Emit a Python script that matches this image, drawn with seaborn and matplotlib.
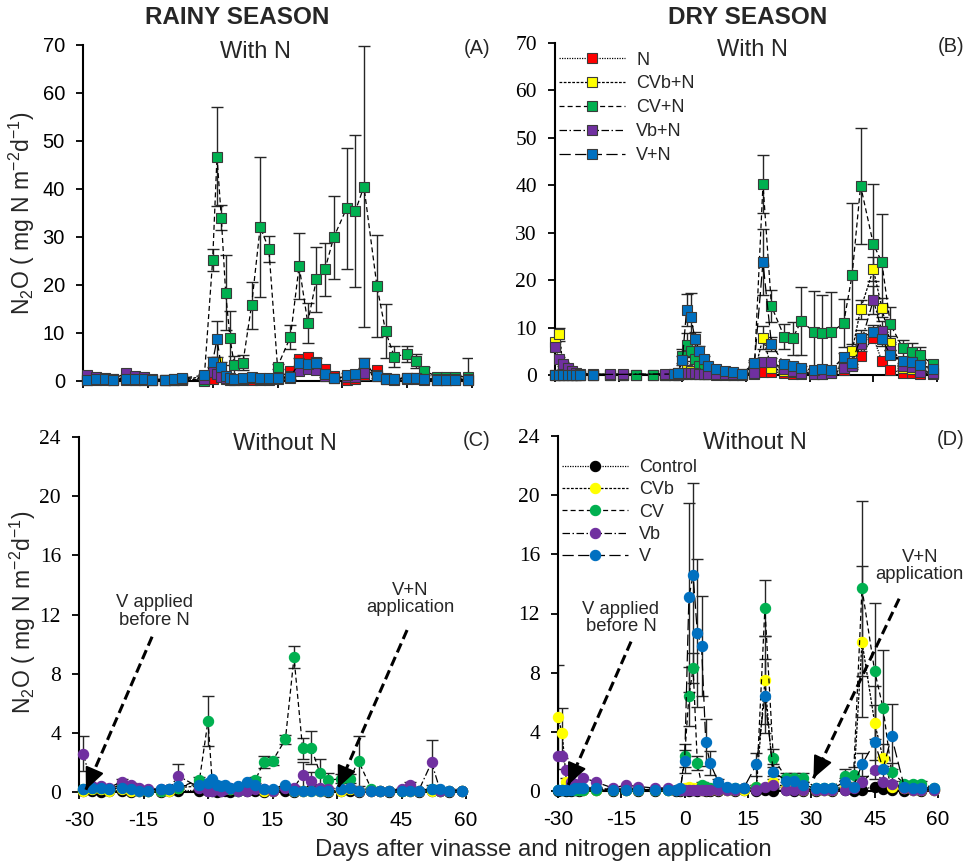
import numpy as np
import matplotlib
matplotlib.use("Agg")
import matplotlib.pyplot as plt
import seaborn as sns
from matplotlib.lines import Line2D

nan = np.nan

# ---------------- sampling days ----------------
R_DAYS = [-29, -27, -25, -23,
          -20, -18, -16, -14,
          -11, -9, -7, -2,
          0, 1, 2, 3, 4, 5,
          7, 9, 11, 13, 15,
          18, 20, 22, 24, 26, 28,
          31, 33, 35, 38, 40, 42,
          45, 47, 49, 52, 54, 56, 59]

D_DAYS = [-30, -29, -28, -27, -26, -25, -24,
          -21, -17, -14, -11, -7, -4, -2, -1,
          0, 1, 2, 3, 4, 5, 6,
          8, 10, 12, 14,
          17, 19, 21, 24, 26, 28,
          31, 33, 35, 38, 40, 42,
          45, 47, 49, 52, 54, 56, 59]

# ---------------- (A) rainy season, with N ----------------
A_N = [0.2, 0.2, 0.2, 0.2,
       0.3, 0.2, 0.2, 0.2,
       0.2, 0.2, 0.2, 0.3,
       0.5, 2.0, 0.8, 0.4, 0.3, 0.3,
       0.2, 0.3, 0.3, 0.3, 0.6,
       2.1, 4.5, 5.1, 3.9, 2.6, 1.0,
       0.3, 0.5, 1.3, 2.3, 0.6, 0.3,
       0.4, 0.4, 0.3, 0.3, 0.3, 0.4, 0.3]
A_CVbN = [0.3, 0.4, 0.4, 0.3,
          0.4, 0.3, 0.3, 0.3,
          0.3, 0.3, 0.5, 0.8,
          2.5, 4.0, 1.8, 0.8, 0.5, 0.4,
          0.5, 0.6, 0.5, 0.5, 0.5,
          0.7, 2.5, 2.8, 2.6, 1.0, 0.6,
          0.9, 1.0, 2.5, 1.0, 0.4, 0.4,
          0.6, 0.6, 0.4, 0.3, 0.3, 0.3, 0.3]
A_CVN = [0.9, 0.5, 0.5, 0.4,
         0.6, 0.5, 0.4, 0.3,
         0.3, 0.4, 0.5, 0.1,
         25.2, 46.7, 34.0, 18.4, 9.0, 3.3,
         3.8, 15.8, 32.1, 27.5, 3.0,
         9.2, 24.0, 12.1, 21.2, 23.3, 29.9,
         36.0, 35.4, 40.5, 19.8, 10.4, 5.1,
         5.6, 4.2, 2.1, 0.9, 0.8, 0.9, 0.9]
A_CVN_SD = [0.2, 0.2, 0.2, 0.2,
            0.2, 0.2, 0.2, 0.2,
            0.2, 0.2, 0.2, 0.2,
            2.2, 10.3, 2.6, 7.8, 5.6, 2.0,
            1.6, 4.9, 14.6, 2.7, 0.5,
            2.5, 6.9, 4.2, 6.8, 5.5, 8.6,
            12.6, 15.9, 29.3, 10.7, 5.6, 2.1,
            1.7, 1.4, 0.8, 0.3, 0.3, 0.3, 3.8]
A_VbN = [1.3, 0.8, 0.7, 0.5,
         1.6, 1.0, 0.8, 0.4,
         0.3, 0.3, 0.4, 0.5,
         1.8, 1.5, 0.9, 0.6, 0.4, 0.3,
         0.5, 0.6, 0.5, 0.4, 0.6,
         1.0, 2.0, 2.5, 2.2, 1.0, 0.6,
         0.8, 0.9, 1.6, 1.2, 0.5, 0.4,
         0.6, 0.6, 0.4, 0.5, 0.4, 0.4, 0.5]
A_VN = [0.3, 0.4, 0.4, 0.3,
        0.5, 0.4, 0.4, 0.3,
        0.3, 0.4, 0.6, 1.2,
        4.0, 8.7, 3.0, 1.0, 0.6, 0.5,
        0.6, 0.9, 0.7, 0.7, 0.6,
        0.8, 3.8, 3.6, 3.7, 1.4, 0.7,
        1.2, 1.4, 3.8, 1.0, 0.4, 0.4,
        0.7, 0.7, 0.4, 0.3, 0.3, 0.3, 0.3]
A_VN_SD = [0.1, 0.1, 0.1, 0.1,
           0.1, 0.1, 0.1, 0.1,
           0.1, 0.1, 0.1, 0.3,
           1.0, 3.7, 1.0, 0.3, 0.2, 0.2,
           0.2, 0.3, 0.2, 0.2, 0.2,
           0.3, 1.0, 1.0, 1.0, 0.5, 0.2,
           0.4, 0.5, 1.0, 0.3, 0.1, 0.1,
           0.2, 0.2, 0.1, 0.1, 0.1, 0.1, 0.1]

# ---------------- (B) dry season, with N ----------------
B_N = [0.1, 0.1, 0.1, 0.1, 0.1, 0.1, 0.1,
       0.1, 0.1, 0.1, 0.1, 0.1, 0.1, 0.1, 0.1,
       0.2, 0.3, 0.3, 0.2, 0.2, 0.2, 0.2,
       0.1, 0.1, 0.1, 0.1,
       0.3, 0.6, 0.7, 0.4, 0.3, 0.3,
       0.3, 0.3, 0.4, 1.0, 2.0, 4.0,
       7.9, 3.0, 1.05, 0.5, 0.4, 0.3, 0.2]
B_CVbN = [7.0, 8.6, 1.0, 0.5, 0.3, 0.2, 0.1,
          0.1, 0.1, 0.1, 0.1, 0.1, 0.1, 0.1, 0.1,
          0.5, 1.0, 0.8, 0.5, 0.4, 0.3, 0.3,
          0.2, 0.2, 0.1, 0.1,
          0.5, 7.9, 1.5, 0.8, 0.6, 0.5,
          0.5, 0.5, 0.6, 2.0, 5.0, 13.9,
          22.3, 14.2, 6.7, 1.5, 1.2, 0.8, 0.5]
B_CVbN_SD = [1.0, 1.4, 0.3, 0.1, 0.1, 0.1, 0.1,
             0.1, 0.1, 0.1, 0.1, 0.1, 0.1, 0.1, 0.1,
             0.2, 0.3, 0.3, 0.2, 0.1, 0.1, 0.1,
             0.1, 0.1, 0.1, 0.1,
             0.2, 2.5, 0.5, 0.3, 0.2, 0.2,
             0.2, 0.2, 0.2, 0.6, 1.5, 2.0,
             2.5, 2.0, 1.5, 0.5, 0.4, 0.3, 0.2]
B_CVN = [0.1, 0.1, 0.1, 0.1, 0.1, 0.1, 0.1,
         0.1, 0.1, 0.1, 0.1, 0.1, 0.1, 0.2, 0.3,
         4.0, 6.3, 5.0, 3.3, 1.8, 1.2, 0.9,
         0.8, 0.6, 0.5, 0.3,
         2.0, 40.2, 14.5, 8.1, 7.7, 11.4,
         9.1, 8.8, 9.0, 10.9, 21.1, 39.9,
         27.6, 23.8, 10.7, 5.6, 4.9, 4.2, 2.3]
B_CVN_SD = [0.1, 0.1, 0.1, 0.1, 0.1, 0.1, 0.1,
            0.1, 0.1, 0.1, 0.1, 0.1, 0.1, 0.1, 0.1,
            1.5, 2.5, 2.0, 1.0, 0.6, 0.4, 0.3,
            0.3, 0.2, 0.2, 0.1,
            0.8, 6.1, 3.4, 2.7, 3.5, 7.2,
            8.6, 8.1, 8.4, 5.1, 15.2, 12.2,
            12.7, 10.1, 3.7, 1.8, 1.8, 1.6, 0.8]
B_VbN = [6.0, 3.3, 2.4, 1.5, 0.9, 0.5, 0.3,
         0.2, 0.2, 0.2, nan, nan, 0.2, 0.3, 0.4,
         0.5, 0.5, 0.4, 0.4, 0.3, 0.3, 0.3,
         0.2, 0.2, 0.2, 0.2,
         0.4, 2.8, 2.8, 1.2, 0.8, 0.5,
         0.3, 0.3, 0.4, 1.5, 1.8, 6.5,
         15.8, 9.3, 5.0, 2.0, 1.7, 0.6, 0.4]
B_VbN_SD = [1.0, 0.6, 0.4, 0.3, 0.2, 0.1, 0.1,
            0.1, 0.1, 0.1, nan, nan, 0.1, 0.1, 0.1,
            0.1, 0.1, 0.1, 0.1, 0.1, 0.1, 0.1,
            0.1, 0.1, 0.1, 0.1,
            0.1, 0.8, 0.8, 0.4, 0.3, 0.2,
            0.1, 0.1, 0.1, 0.5, 0.6, 1.5,
            3.0, 2.0, 1.5, 0.6, 0.5, 0.2, 0.1]
B_VN = [0.1, 0.1, 0.1, 0.1, 0.1, 0.1, 0.1,
        0.1, nan, nan, nan, nan, nan, 0.2, 0.5,
        3.1, 13.7, 12.2, 7.6, 5.1, 3.4, 1.8,
        1.2, 0.9, 0.7, 0.2,
        2.6, 23.8, 6.5, 2.3, 2.0, 1.5,
        1.0, 1.3, 1.1, 3.7, 2.5, 7.9,
        9.0, 7.6, 4.3, 3.0, 2.8, 2.2, 1.3]
B_VN_SD = [0.1, 0.1, 0.1, 0.1, 0.1, 0.1, 0.1,
           0.1, nan, nan, nan, nan, nan, 0.1, 0.1,
           1.0, 3.4, 5.0, 1.5, 1.0, 0.6, 0.4,
           0.3, 0.2, 0.2, 0.1,
           0.6, 6.9, 1.5, 0.6, 0.5, 0.4,
           0.3, 0.4, 0.3, 1.0, 0.8, 1.5,
           1.5, 1.5, 1.0, 0.8, 0.8, 0.6, 0.5]

# ---------------- (C) rainy season, without N ----------------
C_CTRL = [0.1, 0.1, 0.0, 0.1,
          0.1, 0.0, 0.1, 0.1,
          0.0, 0.1, 0.1, 0.1,
          0.1, 0.1, 0.0, 0.1, 0.1, 0.0,
          0.1, 0.1, 0.1, 0.0, 0.1,
          0.1, 0.0, 0.1, 0.2, 0.1, 0.0,
          0.1, 0.1, 0.0, 0.1, 0.1, 0.0,
          0.1, 0.1, 0.0, 0.1, 0.1, 0.0, 0.1]
C_CVb = [0.1, 0.2, 0.2, 0.1,
         0.2, 0.1, 0.1, 0.1,
         0.1, 0.1, 0.3, 0.4,
         0.5, 0.7, 0.4, 0.3, 0.4, 0.2,
         0.3, 0.6, 0.4, 0.1, 0.1,
         0.4, 0.1, 0.1, 0.1, 0.1, 0.1,
         0.1, 0.2, 0.1, 0.1, 0.1, 0.1,
         0.1, 0.1, 0.1, 0.1, 0.1, 0.1, 0.1]
C_CV = [0.2, 0.3, 0.3, 0.2,
        0.5, 0.3, 0.2, 0.1,
        0.1, 0.2, 0.3, 0.8,
        4.8, 0.6, 0.3, 0.3, 0.3, 0.2,
        0.1, 0.3, 0.8, 2.05, 2.1,
        3.55, 9.1, 2.95, 3.0, 1.3, 0.8,
        0.9, 0.9, 2.1, 0.2, 0.1, 0.1,
        0.1, 0.2, 0.1, 0.2, 0.1, 0.1, 0.1]
C_CV_SD = [0.1, 0.1, 0.1, 0.1,
           0.1, 0.1, 0.1, 0.1,
           0.1, 0.1, 0.1, 0.2,
           1.7, 0.2, 0.1, 0.1, 0.1, 0.1,
           0.1, 0.1, 0.2, 0.4, 0.3,
           0.3, 0.75, 0.7, 1.1, 0.9, 0.5,
           0.3, 0.3, 1.7, 0.1, 0.1, 0.1,
           0.1, 0.1, 0.1, 0.1, 0.1, 0.1, 0.1]
C_Vb = [2.6, 0.4, 0.4, 0.3,
        0.7, 0.5, 0.3, 0.2,
        0.2, 0.2, 1.1, 0.3,
        0.1, 0.1, 0.2, 0.1, 0.2, 0.3,
        0.1, 0.1, 0.2, 0.2, 0.1,
        0.3, 0.3, 1.15, 0.76, 0.3, 0.2,
        0.2, 0.3, 0.1, 0.1, 0.1, 0.1,
        0.2, 0.45, 0.1, 2.0, 0.1, 0.1, 0.1]
C_Vb_SD = [1.2, 0.1, 0.1, 0.1,
           0.2, 0.1, 0.1, 0.1,
           0.1, 0.1, 0.8, 0.1,
           0.1, 0.1, 0.1, 0.1, 0.1, 0.1,
           0.1, 0.1, 0.1, 0.1, 0.1,
           0.1, 0.1, 0.9, 0.6, 0.1, 0.1,
           0.1, 0.1, 0.1, 0.1, 0.1, 0.1,
           0.1, 0.2, 0.1, 1.5, 0.1, 0.1, 0.1]
C_V = [0.2, 0.3, 0.3, 0.2,
       0.3, 0.2, 0.1, 0.1,
       0.2, 0.2, 0.4, 0.5,
       0.6, 0.85, 0.5, 0.4, 0.5, 0.3,
       0.4, 0.7, 0.5, 0.2, 0.2,
       0.5, 0.1, 0.1, 0.1, 0.1, 0.1,
       0.2, 0.3, 0.1, 0.1, 0.1, 0.1,
       0.1, 0.1, 0.1, 0.2, 0.2, 0.1, 0.1]

# ---------------- (D) dry season, without N ----------------
D_CTRL = [0.0, 0.1, 0.0, 0.0, 0.1, 0.0, 0.1,
          0.1, 0.0, 0.1, 0.0, 0.0, 0.1, 0.0, 0.0,
          0.1, 0.0, 0.1, 0.0, 0.1, 0.0, 0.0,
          0.0, 0.1, 0.0, 0.1,
          0.0, 0.1, 0.0, 0.1, 0.0, 0.0,
          0.0, 0.1, 0.0, 0.1, 0.0, 0.1,
          0.3, 0.15, 0.1, 0.0, 0.1, 0.0, 0.1]
D_CVb = [5.0, 3.9, 0.6, 0.3, 0.2, 0.1, 0.1,
         0.1, 0.1, 0.1, 0.1, 0.1, 0.1, 0.1, 0.1,
         0.2, 0.3, 0.2, 0.2, 0.1, 0.1, 0.1,
         0.1, 0.1, 0.1, 0.1,
         0.3, 7.5, 0.6, 0.2, 0.2, 0.1,
         0.1, 0.1, 0.1, 0.2, 0.3, 10.1,
         4.6, 2.2, 0.3, 0.2, 0.1, 0.1, 0.1]
D_CVb_SD = [3.5, 1.7, 0.3, 0.1, 0.1, 0.1, 0.1,
            0.1, 0.1, 0.1, 0.1, 0.1, 0.1, 0.1, 0.1,
            0.1, 0.1, 0.1, 0.1, 0.1, 0.1, 0.1,
            0.1, 0.1, 0.1, 0.1,
            0.1, 3.0, 0.4, 0.1, 0.1, 0.1,
            0.1, 0.1, 0.1, 0.1, 0.1, 5.1,
            2.5, 1.0, 0.2, 0.1, 0.1, 0.1, 0.1]
D_CV = [0.1, 0.1, 0.1, 0.1, 0.1, 0.1, 0.1,
        0.1, 0.1, 0.1, 0.1, 0.1, 0.1, 0.1, 0.1,
        2.4, 6.4, 8.3, 1.9, 0.4, 0.3, 0.2,
        0.3, 0.2, 0.2, 0.2,
        0.3, 12.35, 2.25, 0.9, 0.9, 0.9,
        0.2, 0.2, 0.2, 1.0, 1.1, 13.7,
        8.1, 5.6, 1.3, 0.5, 0.5, 0.5, 0.2]
D_CV_SD = [0.1, 0.1, 0.1, 0.1, 0.1, 0.1, 0.1,
           0.1, 0.1, 0.1, 0.1, 0.1, 0.1, 0.1, 0.1,
           0.8, 2.0, 1.0, 0.5, 0.2, 0.1, 0.1,
           0.1, 0.1, 0.1, 0.1,
           0.1, 1.9, 0.6, 0.3, 0.3, 0.3,
           0.1, 0.1, 0.1, 0.5, 0.5, 5.9,
           4.6, 3.9, 0.6, 0.2, 0.2, 0.2, 0.1]
D_Vb = [2.4, 2.4, 1.4, 0.6, 0.5, 0.4, 0.9,
        0.6, 0.2, 0.4, 0.3, 0.2, 0.2, 0.1, 0.1,
        0.1, 0.1, 0.1, 0.1, 0.1, 0.1, 0.1,
        0.1, 0.1, 0.1, 0.2,
        0.1, 0.3, 0.4, 0.1, 0.1, 0.1,
        0.1, 0.1, 0.1, 0.1, 0.2, 0.6,
        1.4, 0.6, 0.5, 0.2, 0.1, 0.1, 0.1]
D_V = [0.1, 0.1, 0.1, 0.1, 0.2, 0.2, 0.2,
       0.2, 0.1, 0.1, 0.1, 0.1, 0.1, 0.1, 0.2,
       2.0, 13.1, 14.6, 10.7, 9.8, 3.3, 1.9,
       0.6, 0.3, 0.2, 0.2,
       1.8, 6.4, 1.3, 0.7, 0.7, 0.4,
       0.2, 0.2, 0.2, 0.6, 0.3, 1.8,
       3.3, 1.5, 3.7, 0.3, 0.2, 0.2, 0.2]
D_V_SD = [0.1, 0.1, 0.1, 0.1, 0.1, 0.1, 0.1,
          0.1, 0.1, 0.1, 0.1, 0.1, 0.1, 0.1, 0.1,
          0.8, 6.4, 6.2, 5.0, 3.4, 1.6, 0.8,
          0.2, 0.1, 0.1, 0.1,
          0.8, 2.5, 0.5, 0.3, 0.3, 0.2,
          0.1, 0.1, 0.1, 0.3, 0.2, 0.8,
          2.5, 0.8, 2.2, 0.1, 0.1, 0.1, 0.1]

LABELS_N = ["N", "CVb+N", "CV+N", "Vb+N", "V+N"]
LABELS_0 = ["Control", "CVb", "CV", "Vb", "V"]
COLORS_N = ["#FF0000", "#FFFF00", "#00B050", "#7030A0", "#0070C0"]
COLORS_0 = ["#000000", "#FFFF00", "#00B050", "#7030A0", "#0070C0"]
Y_TICKS_N = [0, 10, 20, 30, 40, 50, 60, 70]
Y_TICKS_0 = [0, 4, 8, 12, 16, 20, 24]
X_TICKS = [-30, -15, 0, 15, 30, 45, 60]

# ---------------- style ----------------
sns.set_theme(style="ticks")
plt.rcParams["font.family"] = ["Liberation Sans", "DejaVu Sans"]
plt.rcParams["axes.unicode_minus"] = False
plt.rcParams["mathtext.fontset"] = "custom"
plt.rcParams["mathtext.rm"] = "Liberation Sans"
plt.rcParams["mathtext.it"] = "Liberation Sans:italic"
plt.rcParams["mathtext.bf"] = "Liberation Sans:bold"

LSTYLES = [(0, (1, 1)), (0, (2.2, 1.2)), (0, (4, 2.5)), (0, (6, 2, 1.2, 2)), (0, (9, 3.5))]

W, H = 968, 864
fig = plt.figure(figsize=(W / 100, H / 100), dpi=100)


def add_axes(l, t, r, b):
    return fig.add_axes([l / W, 1 - b / H, (r - l) / W, (b - t) / H])


axA = add_axes(83, 45, 472, 381)
axB = add_axes(555, 43, 937, 375)
axC = add_axes(79, 437, 466, 792)
axD = add_axes(558, 436, 938, 791)


def draw(ax, days, series, sds, colors, marker, ms, mec):
    d = np.array(days, dtype=float)
    for vals, sd in zip(series, sds):
        if sd is None:
            continue
        v = np.array(vals, dtype=float)
        s = np.array(sd, dtype=float)
        m = ~np.isnan(v)
        ax.errorbar(d[m], v[m], yerr=s[m], fmt="none", ecolor="#262626",
                    elinewidth=1.0, capsize=4, capthick=1.0, zorder=2)
    for i, (vals, col) in enumerate(zip(series, colors)):
        v = np.array(vals, dtype=float)
        m = ~np.isnan(v)
        sns.lineplot(x=d[m], y=v[m], ax=ax, estimator=None, sort=False,
                     color="black", linewidth=0.9, linestyle=LSTYLES[i],
                     marker=marker, markersize=ms, markerfacecolor=col,
                     markeredgecolor=(mec if mec else col), markeredgewidth=0.8,
                     clip_on=False, zorder=3 + i)


draw(axA, R_DAYS, [A_N, A_CVbN, A_CVN, A_VbN, A_VN],
     [None, None, A_CVN_SD, None, A_VN_SD], COLORS_N, "s", 7.2, "#3a3a3a")
draw(axB, D_DAYS, [B_N, B_CVbN, B_CVN, B_VbN, B_VN],
     [None, B_CVbN_SD, B_CVN_SD, B_VbN_SD, B_VN_SD], COLORS_N, "s", 7.2, "#3a3a3a")
draw(axC, R_DAYS, [C_CTRL, C_CVb, C_CV, C_Vb, C_V],
     [None, None, C_CV_SD, C_Vb_SD, None], COLORS_0, "o", 7.4, None)
draw(axD, D_DAYS, [D_CTRL, D_CVb, D_CV, D_Vb, D_V],
     [None, D_CVb_SD, D_CV_SD, None, D_V_SD], COLORS_0, "o", 7.4, None)

serif = ["Liberation Serif", "DejaVu Serif"]
for ax, yt, ymax in [(axA, Y_TICKS_N, 70), (axB, Y_TICKS_N, 70),
                     (axC, Y_TICKS_0, 24), (axD, Y_TICKS_0, 24)]:
    ax.set_xlim(-30, 60)
    ax.set_ylim(0, ymax)
    ax.set_xticks(X_TICKS)
    ax.set_yticks(yt)
    ax.set_xlabel("")
    ax.set_ylabel("")
    for side in ["top", "right"]:
        ax.spines[side].set_visible(False)
    for side in ["left", "bottom"]:
        ax.spines[side].set_linewidth(1.5)
        ax.spines[side].set_color("black")
    ax.tick_params(axis="both", direction="out", length=5, width=1.3,
                   colors="black")
    ax.tick_params(axis="y", pad=8, labelsize=14.5)
    ax.tick_params(axis="x", pad=9, labelsize=15)
    ax.set_facecolor("white")

for ax in (axA, axB):
    ax.tick_params(axis="x", labelbottom=False)
for ax in (axB, axC, axD):
    ax.tick_params(axis="y", labelsize=15.5)
    for lab in ax.get_yticklabels():
        lab.set_fontfamily(serif)

# panel texts
for ax, sub, letter, sx, lx in [(axA, "With N", "(A)", 0.442, 1.014),
                                (axB, "With N", "(B)", 0.518, 1.038),
                                (axC, "Without N", "(C)", 0.532, 1.028),
                                (axD, "Without N", "(D)", 0.518, 1.034)]:
    ax.text(sx, 0.98, sub, transform=ax.transAxes, ha="center", va="center",
            fontsize=17)
    ax.text(lx, 0.99, letter, transform=ax.transAxes, ha="center", va="center",
            fontsize=14.5)

fig.text(237 / W, 1 - 18 / H, "RAINY SEASON", ha="center", va="center",
         fontsize=17.5, fontweight="bold")
fig.text(748 / W, 1 - 18 / H, "DRY SEASON", ha="center", va="center",
         fontsize=17.5, fontweight="bold")

ylab = r"N$_2$O ( mg N m$^{-2}$d$^{-1}$)"
fig.text(22 / W, 1 - 213 / H, ylab, rotation=90, ha="center", va="center", fontsize=16.5)
fig.text(23 / W, 1 - 612 / H, ylab, rotation=90, ha="center", va="center", fontsize=16.5)
fig.text(543 / W, 1 - 850 / H, "Days after vinasse and nitrogen application",
         ha="center", va="center", fontsize=17.2)


# legends
def legend(ax, labels, colors, marker, ms, mec, spacing, anchor):
    handles = []
    for i, (lab, col) in enumerate(zip(labels, colors)):
        handles.append(Line2D([0], [0], color="black", linewidth=0.9,
                              linestyle=LSTYLES[i], marker=marker, markersize=ms,
                              markerfacecolor=col,
                              markeredgecolor=(mec if mec else col),
                              markeredgewidth=0.8, label=lab))
    ax.legend(handles=handles, loc="upper left", bbox_to_anchor=anchor,
              frameon=False, fontsize=13, handlelength=3.7, handletextpad=0.6,
              labelspacing=spacing, borderaxespad=0.0, borderpad=0.2)


legend(axB, LABELS_N, COLORS_N, "s", 7.2, "#3a3a3a", 0.38, (0.0, 0.985))
legend(axD, LABELS_0, COLORS_0, "o", 7.4, None, 0.29, (0.0, 0.945))


# annotations (arrows)
def arrow(ax, start, end, text, tpos):
    ax.plot([start[0], end[0]], [start[1], end[1]], color="black", linewidth=2.2,
            linestyle=(0, (3.2, 1.6)), zorder=9, clip_on=False)
    back = (end[0] + 0.08 * (start[0] - end[0]), end[1] + 0.08 * (start[1] - end[1]))
    ax.annotate("", xy=end, xytext=back, zorder=10,
                arrowprops=dict(arrowstyle="-|>,head_length=0.45,head_width=0.2",
                                color="black", lw=1.5, mutation_scale=30,
                                shrinkA=0, shrinkB=0))
    ax.text(tpos[0], tpos[1], text, ha="center", va="center", fontsize=13.3,
            linespacing=1.05, zorder=11)


arrow(axC, (-13.0, 10.5), (-28.4, 0.15), "V applied\nbefore N", (-12.5, 12.2))
arrow(axC, (46.3, 10.95), (30.2, 0.27), "V+N\napplication", (47.0, 13.05))
arrow(axD, (-12.7, 10.1), (-27.6, 0.4), "V applied\nbefore N", (-15.1, 11.7))
arrow(axD, (50.8, 13.0), (30.5, 0.86), "V+N\napplication", (55.7, 15.2))

fig.savefig("out.png", dpi=100, facecolor="white")
